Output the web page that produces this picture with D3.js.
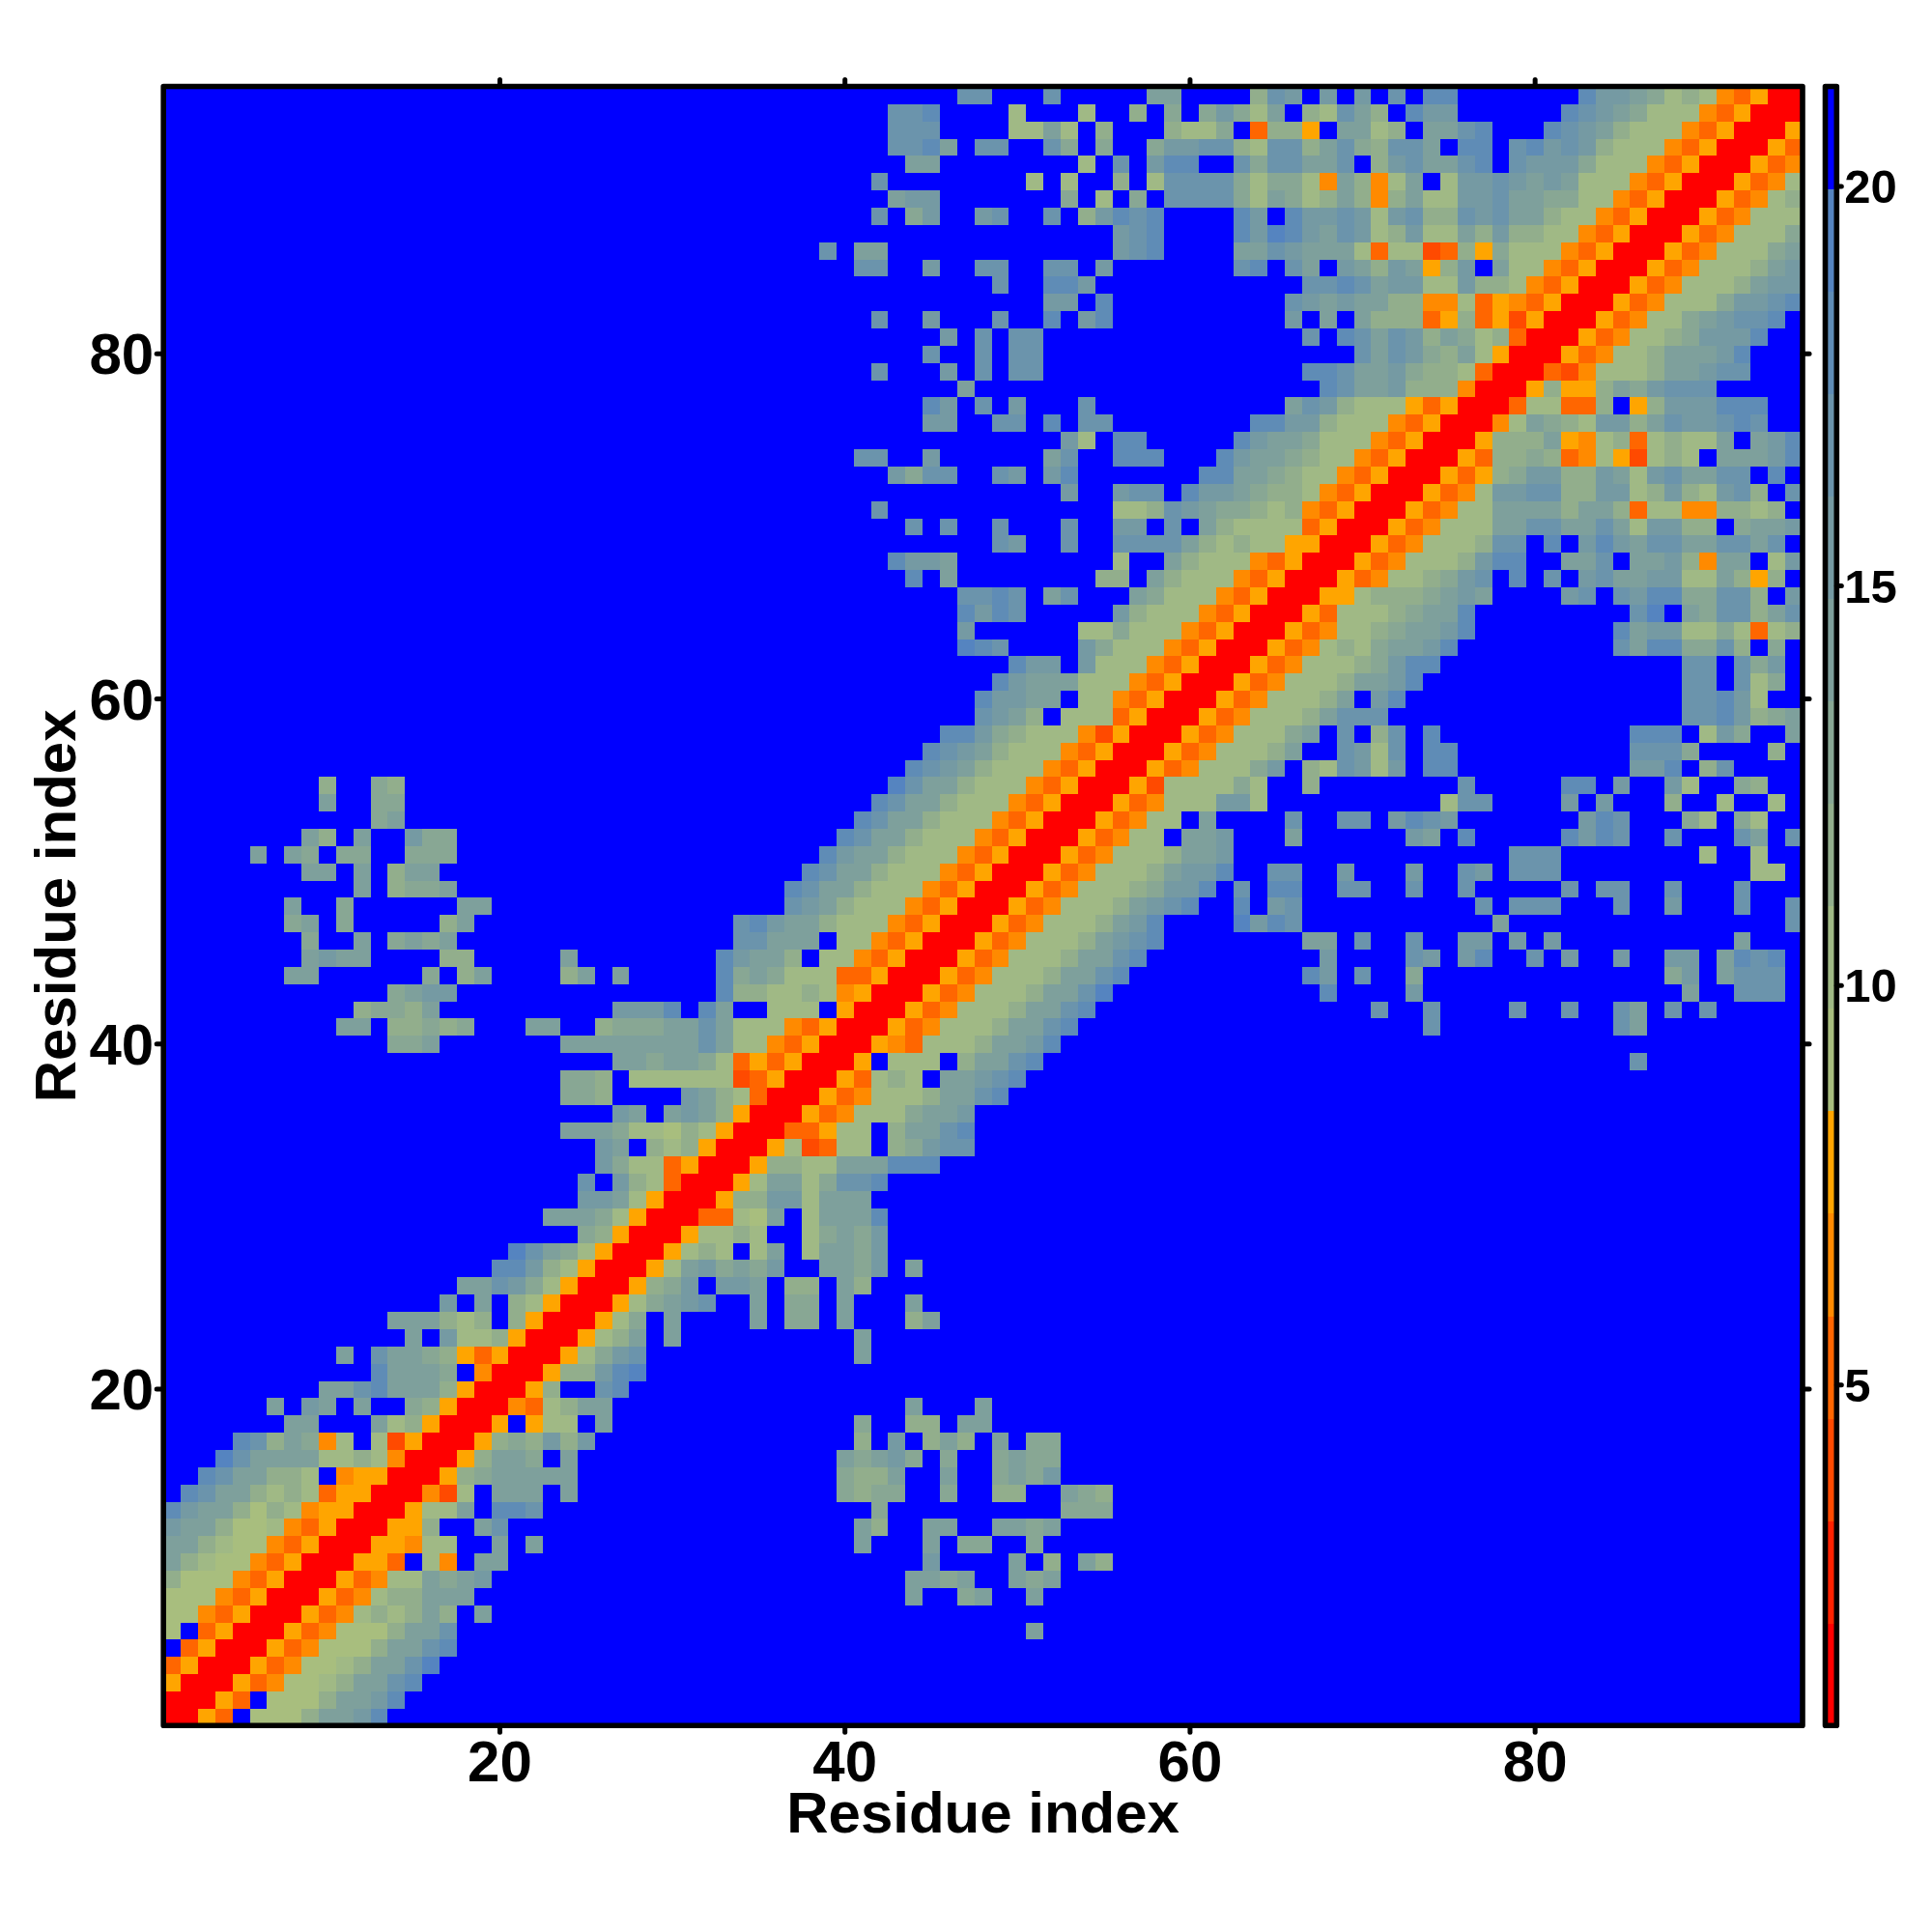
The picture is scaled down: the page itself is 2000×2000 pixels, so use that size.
<!DOCTYPE html>
<html><head><meta charset="utf-8">
<script src="https://cdn.jsdelivr.net/npm/d3@7"></script>
<style>html,body{margin:0;padding:0;background:#fff}svg{display:block}text{font-family:"Liberation Sans",Arial,sans-serif;font-weight:bold;fill:#000}</style>
</head><body><div id="c"></div>
<script>
// Upper triangle of the symmetric distance map, as [row, first column, bin digits].
// Each hex digit is a colour-bar bin (0 = nearest, f = farthest). Unlisted cells are bin f.
const nearDiagonalRuns = [
[1,1,"0053f6668aabd"],[2,2,"0053f6668aabd"],[3,3,"005346678aacd"],[4,4,"005346678aace"],
[5,5,"005346668aacd"],[6,6,"005346668aac"],[7,7,"005347878a8fa"],[8,8,"00534788aaa"],
[9,9,"0053477a9ab"],[10,10,"00553f74faa"],[11,11,"0055477ffafa"],[12,12,"00558ffac"],
[13,13,"00577afddc"],[14,14,"00427faaafa"],[15,15,"00589aaaaa"],[16,16,"0058aa9fa"],
[17,17,"005898b8b"],[18,18,"005f577fa"],[19,19,"004378aa"],[20,20,"0058ffcd"],
[21,21,"00588bde"],[22,22,"00579bc"],[23,23,"00578afa"],[24,24,"00579fa"],
[25,25,"00579abc"],[26,26,"00589bfbbaf88fa8"],[27,27,"0057ab9a9bffaa9bfa"],[28,28,"005787f7af7aa9b"],
[29,29,"0057787ff79a9b"],[30,30,"003376af7aaad"],[31,31,"00588bb7aaa"],[32,32,"0057aa79ccd"],
[33,33,"0058877aaaddd"],[34,34,"00572377f89bcc"],[35,35,"0033577f8aacd"],[36,36,"005347779aab"],
[37,37,"005347778aacd"],[38,38,"0053787faabcd"],[39,39,"005f777f8aacd"],[40,40,"005437778aabd"],
[41,41,"005347778aacd"],[42,42,"005347778aacd"],[43,43,"005347778aace"],[44,44,"005347778aacd"],
[45,45,"005347778aacd"],[46,46,"005347778abcd"],[47,47,"005347778abd"],[48,48,"005347778abcdffdfbc"],
[49,49,"0053477789bbdfcfdd"],[50,50,"005347778abbdffcc"],[51,51,"005347778aab"],[52,52,"0053477faab"],
[53,53,"0053477fa"],[54,54,"00534777bb7"],[55,55,"0052777797"],[56,56,"005347779bf87cb7bfdd"],
[57,57,"005347778affcb7cfdd"],[58,58,"005347779afcf8cfd"],[59,59,"005347778accc"],[60,60,"005347778afbd"],
[61,61,"005347778aabd"],[62,62,"0053477789bdd"],[63,63,"005347879aabd"],
[64,64,"005347789aabdffffffffdabb7797378"],
[65,65,"005377789aadfffffffffcefa9cc8ac"],
[66,66,"005578889abaffffbcfcbdd99cc8fb"],
[67,67,"005347789bcfdfcfbcaabb77a858f"],
[68,68,"005347778bddffaacfaab84aaf7b"],
[69,69,"005347778ccfdfbdbaccaaccacf"],
[70,70,"00534777aaccaaca7bb88f9aab"],
[71,71,"0053477aaaa8aa8377448878f"],
[72,72,"005347bbcc88bb78b87bc8fc"],
[73,73,"0053589bb88ba7bcaaccfdf"],
[74,74,"0053889834752787faaabd"],
[75,75,"005888a547837877afabd"],
[76,76,"0047a987bb8acbbcdcff"],
[77,77,"00377338f58bbbdddff"],[78,78,"0058558a9bcccfffff"],[79,79,"003247778aabccfff"],
[80,80,"00534778aaabdfff"],[81,81,"005347789bbbdff"],[82,82,"00534779abccdf"],
[83,83,"005347779bbcd"],[84,84,"005347778abb"],[85,85,"005347778ab"],[86,86,"005347779a"],
[87,87,"005347779"],[88,88,"00534777"],[89,89,"0053478"],[90,90,"005347"],[91,91,"00534"],[92,92,"0053"],[93,93,"005"],[94,94,"00"],[95,95,"0"]
];
const farContactRuns = [
[6,51,"a"],[8,44,"a"],[8,47,"9a"],[8,51,"a"],
[9,44,"aa9a"],[9,50,"a9a"],[10,45,"b"],[10,50,"a"],[10,52,"8"],[10,54,"a8"],
[11,41,"a"],[11,45,"a"],[11,47,"99"],[11,51,"9"],
[12,41,"a8"],[12,45,"aa"],[12,49,"aa9a"],[13,42,"9"],[13,53,"999"],
[14,40,"9899"],[14,46,"9"],[14,49,"88"],[14,53,"a98"],
[15,40,"988a"],[15,46,"a"],[15,49,"9a9b"],[16,40,"a9ab9"],[16,46,"9"],[16,49,"9a99"],
[17,41,"8"],[17,43,"b"],[17,45,"8a8"],[17,49,"a"],[17,51,"99"],
[18,41,"9"],[18,44,"88"],[18,47,"aa"],[19,44,"a"],[19,48,"a"],
[22,41,"a"],[23,41,"a"],
[24,35,"a"],[24,37,"99"],[24,40,"a"],[24,44,"8a"],
[25,35,"a"],[25,37,"99"],[25,40,"a"],[25,44,"a"],
[27,44,"a"],
[39,86,"c"],
[41,74,"c"],[41,85,"ca"],
[42,71,"c"],[42,74,"c"],[42,79,"c"],[42,82,"c"],[42,85,"ca"],[42,88,"c"],[42,90,"c"],
[43,68,"d"],[43,73,"b"],[43,89,"a"],[43,92,"ccc"],
[44,67,"db"],[44,70,"c"],[44,73,"9"],[44,88,"9b"],[44,91,"accc"],
[45,68,"b"],[45,73,"cb"],[45,76,"bd"],[45,80,"c"],[45,82,"b"],[45,85,"b"],[45,88,"bb"],[45,91,"adcd"],
[46,67,"aa"],[46,70,"c"],[46,73,"c"],[46,76,"bb"],[46,79,"b"],[46,81,"b"],[46,92,"a"],
[47,63,"ebdc"],[47,78,"a"],[47,95,"c"],
[48,77,"c"],[48,79,"ccc"],[48,85,"c"],[48,88,"b"],[48,92,"c"],[48,95,"c"],
[49,69,"cc"],[49,73,"c"],[49,76,"c"],[49,82,"c"],[49,84,"cc"],[49,88,"c"],[49,92,"c"],
[50,69,"b"],[50,73,"b"],[50,76,"cb"],[50,79,"ccc"],[50,93,"77"],
[51,79,"ccc"],[51,90,"7"],[51,93,"7"],
[52,66,"a"],[52,73,"ba"],[52,76,"d"],[52,82,"dbdc"],[52,88,"c"],[52,92,"ca"],[52,95,"c"],
[53,66,"c"],[53,69,"cc"],[53,72,"bdcb"],[53,83,"bdc"],[53,89,"97"],[53,92,"97"],
[54,75,"7cc"],[54,82,"b"],[54,84,"b"],[54,88,"8"],[54,91,"7"],[54,94,"7"],
[55,67,"8"],[55,76,"c"],[55,82,"dd"],[55,85,"b"],[55,88,"b7"],[55,92,"98"],
[56,86,"bbdf8c"],[57,86,"ccc9"],[57,94,"8"],
[58,86,"dddf7b9ffa"],[59,89,"ccdb89a"],[60,89,"ccdb7"],[61,89,"ccfc79"],[62,89,"ccfc9b"],
[63,85,"cadd99c8f9f"]
];
const xTickValues = [20,40,60,80];
const barTickValues = [5,10,15,20];
const binColors = ["#ff0000","#ff2200","#ff4a00","#ff6600","#ff8a00","#ffa500","#a8be7e","#a0b985","#92ae8c","#88a794","#7ea09c","#759aa3","#6b94ac","#5f8cb6","#5584c0","#0000ff"];
const axisTitle = "Residue index";
const residueCount = 95, barMin = 0.74, barMax = 21.25;

// ---- layout
const L=169.2,R=1866,T=89.5,B=1786.2,FW=5.6;
const x=d3.scaleLinear().domain([0.5,residueCount+0.5]).range([L,R]);
const y=d3.scaleLinear().domain([0.5,residueCount+0.5]).range([B,T]);
const binWidth=(barMax-barMin)/binColors.length;
const color=d3.scaleQuantize().domain([barMin,barMax]).range(binColors);
const barY=d3.scaleLinear().domain([barMin,barMax]).range([B,T]);

// ---- build symmetric matrix of values (bin centres)
const toValue=c=>barMin+(parseInt(c,16)+0.5)*binWidth;
const matrix=d3.range(residueCount).map(()=>d3.range(residueCount).map(()=>toValue("f")));
[...nearDiagonalRuns,...farContactRuns].forEach(([r,c0,s])=>{
  [...s].forEach((ch,i)=>{const c=c0+i; if(c<=residueCount){matrix[r-1][c-1]=toValue(ch);matrix[c-1][r-1]=toValue(ch);}});
});
const cells=[];
matrix.forEach((row,i)=>row.forEach((v,j)=>cells.push({r:i+1,c:j+1,v})));

const svg=d3.select("#c").append("svg").attr("width",2000).attr("height",2000);
svg.append("rect").attr("width",2000).attr("height",2000).attr("fill","#fff");
svg.append("g").attr("shape-rendering","crispEdges").selectAll("rect").data(cells).join("rect")
  .attr("x",d=>x(d.c-0.5)).attr("width",d=>x(d.c+0.5)-x(d.c-0.5)+0.5)
  .attr("y",d=>y(d.r+0.5)).attr("height",d=>y(d.r-0.5)-y(d.r+0.5)+0.5)
  .attr("fill",d=>color(d.v));

const tickStyle=g=>{g.select(".domain").remove();g.selectAll("line").attr("stroke","#000").attr("stroke-width",5).attr("stroke-linecap","round");};
const fmt=d3.format("d");
const ax=(gen,tx,ty)=>svg.append("g").attr("transform",`translate(${tx},${ty})`).call(gen.offset(0)).call(tickStyle);
const tl=7;
ax(d3.axisBottom(x).tickValues(xTickValues).tickFormat(fmt).tickSize(tl),0,B)
  .selectAll("text").attr("font-size",60).attr("y",58).attr("dy",0);
ax(d3.axisLeft(y).tickValues(xTickValues).tickFormat(fmt).tickSize(tl).tickPadding(3),L,0)
  .selectAll("text").attr("font-size",60).attr("dy","0.35em");
ax(d3.axisTop(x).tickValues(xTickValues).tickFormat("").tickSize(tl),0,T);
ax(d3.axisRight(y).tickValues(xTickValues).tickFormat("").tickSize(tl),R,0);
svg.selectAll("g.tick text").style("font-family",'"Liberation Sans"').style("font-weight","bold");

// frame
svg.append("rect").attr("x",L).attr("y",T).attr("width",R-L).attr("height",B-T).attr("fill","none").attr("stroke","#000").attr("stroke-width",FW).attr("stroke-linejoin","round");

// axis titles
svg.append("text").attr("x",(L+R)/2).attr("y",1897).attr("text-anchor","middle").attr("font-size",60).text(axisTitle);
svg.append("text").attr("transform",`translate(78,${(T+B)/2}) rotate(-90)`).attr("text-anchor","middle").attr("font-size",60).text(axisTitle);

// colour bar
const barL=1889.5,barR=1901.3;
svg.append("g").attr("shape-rendering","crispEdges").selectAll("rect").data(binColors).join("rect")
  .attr("x",barL).attr("width",barR-barL)
  .attr("y",(d,i)=>barY(barMin+(i+1)*binWidth)).attr("height",(B-T)/binColors.length+0.5)
  .attr("fill",d=>d);
svg.append("rect").attr("x",barL).attr("y",T).attr("width",barR-barL).attr("height",B-T).attr("fill","none").attr("stroke","#000").attr("stroke-width",FW).attr("stroke-linejoin","round");
const barAxis=svg.append("g").attr("transform",`translate(${barR},0)`)
  .call(d3.axisRight(barY).tickValues(barTickValues).tickFormat(fmt).tickSize(5).tickPadding(3).offset(0)).call(tickStyle);
barAxis.selectAll("text").attr("font-size",49).attr("dy","0.35em").style("font-family",'"Liberation Sans"').style("font-weight","bold");
</script></body></html>
